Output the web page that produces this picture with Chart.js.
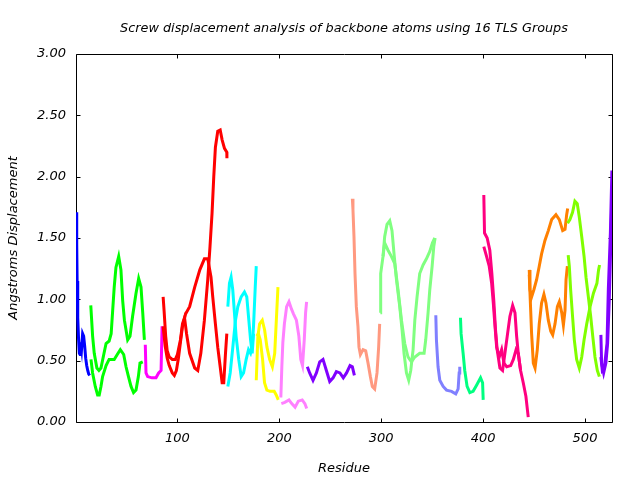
<!DOCTYPE html>
<html>
<head>
<meta charset="utf-8">
<script src="https://cdn.jsdelivr.net/npm/chart.js@4.4.0/dist/chart.umd.min.js"></script>
<style>
  html, body { margin: 0; padding: 0; background: #fff; }
  canvas { display: block; }
</style>
</head>
<body>
<canvas id="chart" width="640" height="480"></canvas>
<script>
// values: residue number and screw displacement (A) per curve
const blueRes = [0.8, 1.2, 1.6, 2.2, 3, 3.8, 4.5, 5.2, 6, 7, 8, 9, 10, 11, 12, 13, 14];
const blueVal = [1.71, 1.45, 1.15, 0.85, 0.68, 0.56, 0.55, 0.65, 0.60, 0.72, 0.70, 0.62, 0.52, 0.46, 0.42, 0.39, 0.38];

const greenResA = [15, 16.8, 18.4, 21, 23, 25, 28, 30, 33, 35, 36.5, 38, 39.7, 42.4, 44.6, 46.3, 48, 51.2, 53.5, 56, 59.4, 62, 64.3, 66, 67.6];
const greenValA = [0.95, 0.70, 0.56, 0.44, 0.42, 0.44, 0.56, 0.64, 0.66, 0.72, 0.91, 1.10, 1.26, 1.35, 1.24, 0.99, 0.83, 0.67, 0.70, 0.86, 1.05, 1.17, 1.10, 0.89, 0.67];
const greenResB = [15.2, 16.8, 19.4, 21.7, 23.3, 25, 26.6, 30, 33, 38, 41, 44, 47.3, 49.6, 52, 54.5, 57, 59.4, 61.7, 63.3, 66];
const greenValB = [0.51, 0.40, 0.29, 0.22, 0.22, 0.29, 0.37, 0.46, 0.51, 0.51, 0.55, 0.59, 0.55, 0.45, 0.37, 0.29, 0.24, 0.26, 0.37, 0.48, 0.49];

const magentaRes = [68.5, 69.2, 70.8, 75, 79, 81.6, 84, 85];
const magentaVal = [0.63, 0.40, 0.37, 0.36, 0.36, 0.40, 0.42, 0.78];

const redResA = [86, 88, 90, 92, 95, 97, 99, 101, 103, 105, 108, 112, 117, 122, 126.5, 129.8, 133, 134.7, 137.3, 139.6, 142, 143.9, 145.5, 147.2, 148.5];
const redValA = [0.78, 0.62, 0.52, 0.46, 0.40, 0.38, 0.42, 0.52, 0.65, 0.78, 0.88, 0.94, 1.10, 1.24, 1.33, 1.33, 1.18, 1.02, 0.80, 0.61, 0.45, 0.32, 0.32, 0.56, 0.72];
const redResB = [86, 87, 88.5, 90, 92, 95, 98, 100, 103, 105, 107, 109, 112, 117, 120, 123, 126.5, 129.8, 132, 134, 135.7, 137.3, 139.6, 142, 143.9, 146.2, 148.5, 148.6];
const redValB = [1.02, 0.90, 0.70, 0.58, 0.53, 0.51, 0.51, 0.55, 0.67, 0.80, 0.85, 0.72, 0.56, 0.44, 0.42, 0.56, 0.83, 1.16, 1.43, 1.70, 2.00, 2.24, 2.37, 2.38, 2.30, 2.23, 2.20, 2.15];

const cyanResA = [149.5, 151.1, 152.7, 154.3, 156, 157.6, 160.2, 162.6, 164.9, 167.5, 169.8, 171.8, 173.4, 174.7, 176.4, 177.4];
const cyanValA = [0.94, 1.13, 1.18, 1.08, 0.89, 0.70, 0.51, 0.37, 0.40, 0.51, 0.59, 0.56, 0.61, 0.78, 1.10, 1.27];
const cyanResB = [149.5, 151.8, 154.4, 157, 159.3, 162.6, 165.8, 168.1, 170.1, 171.8, 173.4, 174.7];
const cyanValB = [0.29, 0.40, 0.61, 0.83, 0.94, 1.02, 1.06, 1.02, 0.83, 0.67, 0.56, 0.72];

const yellowResA = [177.4, 179, 180.7, 183.3, 185.6, 187.9, 190.5, 193.2, 195.5, 197.1, 198.7];
const yellowValA = [0.34, 0.70, 0.80, 0.83, 0.75, 0.61, 0.51, 0.45, 0.56, 0.83, 1.10];
const yellowResB = [178, 179.5, 181.3, 183.6, 185.5, 187.8, 191, 195, 197, 199];
const yellowValB = [0.70, 0.72, 0.67, 0.51, 0.32, 0.26, 0.25, 0.25, 0.22, 0.18];

const pinkResA = [201.5, 202.5, 203.5, 205, 207.2, 209.5, 212, 214, 216.8, 219.2, 221.1, 222.8, 224.5, 225.8, 226.8];
const pinkValA = [0.20, 0.45, 0.65, 0.80, 0.94, 0.98, 0.92, 0.88, 0.83, 0.70, 0.51, 0.46, 0.67, 0.89, 0.98];
const pinkResB = [202, 205.4, 209.5, 212.2, 215.5, 218.7, 222.5, 225.1, 226.9];
const pinkValB = [0.15, 0.16, 0.18, 0.15, 0.12, 0.17, 0.18, 0.15, 0.11];

const violetRes = [227.5, 229.8, 233.1, 236.4, 239.7, 242.9, 246.2, 249.5, 252.8, 256, 259.5, 262.8, 266, 269.4, 271.7, 273.7];
const violetVal = [0.45, 0.40, 0.34, 0.40, 0.49, 0.51, 0.42, 0.33, 0.36, 0.41, 0.40, 0.36, 0.40, 0.46, 0.45, 0.38];

const salmonRes = [271.7, 272.3, 273.3, 274.3, 275.6, 277.2, 278.2, 279.6, 282.2, 284.8, 287.1, 289.4, 291.3, 293.6, 295.9, 297.5, 298.5];
const salmonVal = [1.82, 1.73, 1.51, 1.21, 0.94, 0.78, 0.61, 0.55, 0.59, 0.58, 0.48, 0.37, 0.29, 0.27, 0.40, 0.61, 0.80];

const lightGreenResA = [299.2, 299.5, 301.8, 303.4, 305.7, 308.4, 310.6, 312.6, 315, 318.2, 320.5, 322.4, 324.8, 327, 329, 331.3, 333, 335.2, 337.8, 341.1, 344.4, 347.7, 350.3, 352.6];
const lightGreenValA = [0.89, 1.21, 1.35, 1.51, 1.61, 1.64, 1.56, 1.37, 1.16, 0.94, 0.75, 0.56, 0.40, 0.34, 0.42, 0.59, 0.83, 1.02, 1.21, 1.28, 1.33, 1.39, 1.46, 1.50];
const lightGreenResB = [301.8, 303.4, 306.7, 310, 313.3, 316.5, 319.9, 323.1, 326.3, 329.7, 333, 337.8, 342.1, 343.7, 346, 347.7, 350, 351.6, 352.9];
const lightGreenValB = [1.35, 1.46, 1.40, 1.35, 1.29, 1.08, 0.83, 0.64, 0.53, 0.49, 0.53, 0.56, 0.56, 0.67, 0.89, 1.08, 1.27, 1.43, 1.50];

const lavenderRes = [353.6, 354.2, 355.8, 357.5, 360.8, 364.1, 369, 373.2, 375.5, 376.5, 377.1];
const lavenderVal = [0.87, 0.67, 0.45, 0.34, 0.29, 0.26, 0.25, 0.23, 0.27, 0.40, 0.45];

const springRes = [377.8, 378.4, 380.4, 382, 384.3, 387, 390.2, 393.6, 397.5, 399.5, 400.1];
const springVal = [0.85, 0.72, 0.56, 0.42, 0.29, 0.24, 0.25, 0.30, 0.36, 0.32, 0.18];

const deepPinkResA = [400.7, 401.4, 404, 406.6, 408.6, 410.5, 412.2, 413.8, 416.5, 419.1, 421.4, 423.7, 426.3, 429, 431.3, 432.9, 434.5, 436.8, 439.4, 442, 444.3];
const deepPinkValA = [1.85, 1.54, 1.50, 1.40, 1.21, 0.99, 0.75, 0.59, 0.44, 0.42, 0.56, 0.70, 0.86, 0.95, 0.89, 0.70, 0.56, 0.42, 0.32, 0.21, 0.04];
const deepPinkResB = [400.7, 403.4, 406, 408.4, 410, 411.7, 413.3, 415.9, 418.2, 420.5, 423.2, 427.1, 429.7, 432.4, 434.5, 436.8];
const deepPinkValB = [1.43, 1.35, 1.27, 1.13, 0.97, 0.78, 0.61, 0.53, 0.59, 0.48, 0.45, 0.46, 0.51, 0.59, 0.56, 0.42];

const orangeResA = [445.3, 446, 447.6, 449.9, 452.5, 455.1, 457.4, 460.7, 464, 467.3, 471.5, 474.8, 478.1, 480.4, 482, 483];
const orangeValA = [1.24, 1.08, 1.02, 1.08, 1.16, 1.27, 1.37, 1.48, 1.56, 1.65, 1.69, 1.65, 1.56, 1.57, 1.69, 1.74];
const orangeResB = [445.3, 446.7, 447.6, 449.3, 451, 453.2, 455.1, 457.4, 459.7, 461.7, 464, 466.4, 468.3, 470.6, 472.9, 474.8, 477.2, 478.8, 480.4, 481.4, 482.7];
const orangeValB = [1.20, 0.91, 0.72, 0.48, 0.44, 0.59, 0.80, 0.97, 1.04, 0.97, 0.83, 0.74, 0.71, 0.80, 0.94, 0.98, 0.89, 0.79, 0.91, 1.16, 1.27];

const chartreuseResA = [482.9, 485.2, 487.8, 490.1, 492.4, 494.4, 496.8, 499.1, 501, 503.3, 505.6, 507.6, 509.8, 512.1, 514.1];
const chartreuseValA = [1.62, 1.65, 1.71, 1.80, 1.78, 1.67, 1.51, 1.35, 1.18, 1.02, 0.86, 0.70, 0.53, 0.42, 0.37];
const chartreuseResB = [483.5, 484.6, 485.9, 487.8, 489.5, 491.8, 494.4, 496.8, 499.1, 501.7, 505, 508.3, 511.7, 513.3, 514.3];
const chartreuseValB = [1.36, 1.27, 1.08, 0.86, 0.67, 0.51, 0.44, 0.53, 0.67, 0.80, 0.94, 1.05, 1.13, 1.24, 1.28];

const purpleResA = [515.6, 516.3, 518.3, 520.5, 522.2, 523.8, 525.5, 526.5];
const purpleValA = [0.71, 0.48, 0.40, 0.48, 0.64, 0.99, 1.51, 1.89];
const purpleResB = [515.6, 517, 519, 521.6, 522.9, 524.9, 526.4];
const purpleValB = [0.53, 0.42, 0.44, 0.64, 1.08, 1.54, 2.05];

const xTicks = [100, 200, 300, 400, 500];
const yTicks = [0, 0.5, 1, 1.5, 2, 2.5, 3];

// one entry per TLS group, in the order gnuplot drew them
const groups = [
    ['#0000ff', [[blueRes, blueVal]]],
    ['#00ff00', [[greenResA, greenValA], [greenResB, greenValB]]],
    ['#ff00ff', [[magentaRes, magentaVal]]],
    ['#ff0000', [[redResA, redValA], [redResB, redValB]]],
    ['#00ffff', [[cyanResA, cyanValA], [cyanResB, cyanValB]]],
    ['#ffff00', [[yellowResA, yellowValA], [yellowResB, yellowValB]]],
    ['#ff80ff', [[pinkResA, pinkValA], [pinkResB, pinkValB]]],
    ['#8000ff', [[violetRes, violetVal]]],
    ['#ff9980', [[salmonRes, salmonVal]]],
    ['#80ff80', [[lightGreenResA, lightGreenValA], [lightGreenResB, lightGreenValB]]],
    ['#8080ff', [[lavenderRes, lavenderVal]]],
    ['#00ff80', [[springRes, springVal]]],
    ['#ff0080', [[deepPinkResA, deepPinkValA], [deepPinkResB, deepPinkValB]]],
    ['#ff8000', [[orangeResA, orangeValA], [orangeResB, orangeValB]]],
    ['#80ff00', [[chartreuseResA, chartreuseValA], [chartreuseResB, chartreuseValB]]],
    ['#8000ff', [[purpleResA, purpleValA], [purpleResB, purpleValB]]]
];

const datasets = [];
groups.forEach(([color, curves]) => {
    curves.forEach(([res, val]) => {
        datasets.push({
            data: res.map((r, i) => ({x: r, y: val[i]})),
            borderColor: color,
            borderWidth: 3,
            pointRadius: 0,
            tension: 0,
            order: -datasets.length
        });
    });
});

// gnuplot style frame: plain border with inward mirrored tics
const frame = {
    id: 'frame',
    beforeDatasetsDraw(chart) {
        const {ctx, chartArea: a, scales: {x, y}} = chart;
        const L = Math.round(a.left) + 0.5, R = Math.round(a.right) + 0.5;
        const T = Math.round(a.top) + 0.5, B = Math.round(a.bottom) + 0.5;
        ctx.save();
        ctx.strokeStyle = '#000';
        ctx.lineWidth = 1;
        ctx.beginPath();
        xTicks.forEach(t => {
            const px = Math.round(x.getPixelForValue(t)) + 0.5;
            ctx.moveTo(px, B); ctx.lineTo(px, B - 4);
            ctx.moveTo(px, T); ctx.lineTo(px, T + 4);
        });
        yTicks.forEach(t => {
            const py = Math.round(y.getPixelForValue(t)) + 0.5;
            ctx.moveTo(L, py); ctx.lineTo(L + 4, py);
            ctx.moveTo(R, py); ctx.lineTo(R - 4, py);
        });
        ctx.rect(L, T, R - L, B - T);
        ctx.stroke();
        ctx.restore();
    }
};

Chart.defaults.font.family = '"DejaVu Sans", sans-serif';
Chart.defaults.font.style = 'italic';
Chart.defaults.font.size = 13;
Chart.defaults.color = '#000';

new Chart(document.getElementById('chart'), {
    type: 'line',
    data: { datasets: datasets },
    plugins: [frame],
    options: {
        responsive: false,
        animation: false,
        layout: { padding: { left: 0, right: 28, top: 0, bottom: 0 } },
        plugins: {
            legend: { display: false },
            tooltip: { enabled: false },
            title: {
                display: true,
                text: 'Screw displacement analysis of backbone atoms using 16 TLS Groups',
                fullSize: false,
                font: { size: 12.8, style: 'italic', weight: 'normal' },
                padding: { top: 21, bottom: 17.6 }
            }
        },
        scales: {
            x: {
                type: 'linear',
                min: 0.5,
                max: 526.5,
                grid: { display: false, drawTicks: false },
                border: { display: false },
                afterBuildTicks: s => { s.ticks = xTicks.map(v => ({value: v})); },
                afterFit: s => { s.height = 58; },
                ticks: { autoSkip: false, maxRotation: 0, padding: 9, callback: v => v },
                title: { display: true, text: 'Residue', padding: { top: 0, bottom: 4 } }
            },
            y: {
                min: 0,
                max: 3,
                grid: { display: false, drawTicks: false },
                border: { display: false },
                afterBuildTicks: s => { s.ticks = yTicks.map(v => ({value: v})); },
                afterFit: s => { s.width = 76; },
                ticks: { padding: 10, callback: v => Number(v).toFixed(2) },
                title: { display: true, text: 'Angstroms Displacement', padding: { top: 6, bottom: 0 } }
            }
        }
    }
});
</script>
</body>
</html>
